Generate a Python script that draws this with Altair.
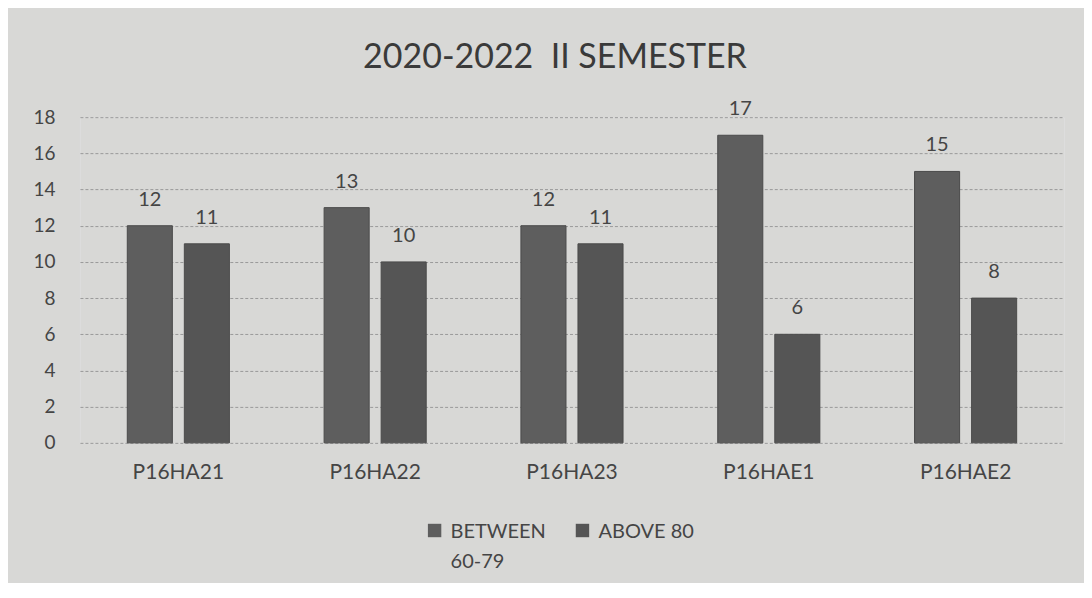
import altair as alt
import pandas as pd

courses = ["P16HA21", "P16HA22", "P16HA23", "P16HAE1", "P16HAE2"]
between_60_79 = [12, 13, 12, 17, 15]
above_80 = [11, 10, 11, 6, 8]
series = ["BETWEEN 60-79", "ABOVE 80"]

rows = []
for c, a, b in zip(courses, between_60_79, above_80):
    rows.append({"course": c, "series": series[0], "value": a})
    rows.append({"course": c, "series": series[1], "value": b})
df = pd.DataFrame(rows)

FONT = "Lato"
TXT = "#454545"

x = alt.X("course:N", sort=courses, title=None,
          scale=alt.Scale(paddingInner=0, paddingOuter=0),
          axis=alt.Axis(labelAngle=0, labelFontSize=21, labelPadding=19, ticks=False,
                        domain=False, labelColor=TXT, labelFont=FONT))
xo = alt.XOffset("series:N", sort=series,
                 scale=alt.Scale(paddingInner=0.21, paddingOuter=0.83))
y = alt.Y("value:Q", title=None,
          scale=alt.Scale(domain=[0, 18]),
          axis=alt.Axis(values=list(range(0, 19, 2)), labelFontSize=19, labelPadding=25,
                        ticks=False, domain=False, labelColor=TXT, labelFont=FONT,
                        grid=True, gridColor="#9a9a9a", gridDash=[3, 2], gridWidth=1))

base = alt.Chart(df).encode(x=x, xOffset=xo, y=y)

bars = base.mark_bar(stroke="#4a4a4a", strokeWidth=1).encode(
    color=alt.Color("series:N", sort=series,
                    scale=alt.Scale(domain=series, range=["#5e5e5e", "#555555"]),
                    legend=alt.Legend(title=None, orient="none", direction="horizontal",
                                      legendX=345, legendY=395,
                                      symbolType="M-1,0.3H1V2.3H-1Z", symbolSize=180,
                                      symbolStrokeWidth=0,
                                      labelFontSize=20, labelColor=TXT, labelFont=FONT,
                                      labelBaseline="top", labelOffset=6,
                                      columnPadding=26,
                                      labelExpr="datum.label == 'BETWEEN 60-79' ? ['BETWEEN', '60-79'] : [datum.label, ' ']"))
)

labels = base.mark_text(dy=-26, fontSize=20, color=TXT, font=FONT).encode(
    text=alt.Text("value:Q")
)

chart = (bars + labels).properties(
    width=985, height=326,
    background="#d8d8d6",
    padding={"left": 72, "top": 109, "right": 20, "bottom": 140},
    autosize=alt.AutoSizeParams(type="none"),
    title=alt.TitleParams("2020-2022\u00a0\u00a0II SEMESTER", fontSize=34, font=FONT, fontWeight="normal",
                          color="#3a3a3a", offset=24, anchor="middle", dx=-17),
).configure_view(stroke=None).configure(style={"guide-label": {"lineHeight": 30}})

chart.save("out.html", embed_options={"renderer": "svg", "actions": False})
